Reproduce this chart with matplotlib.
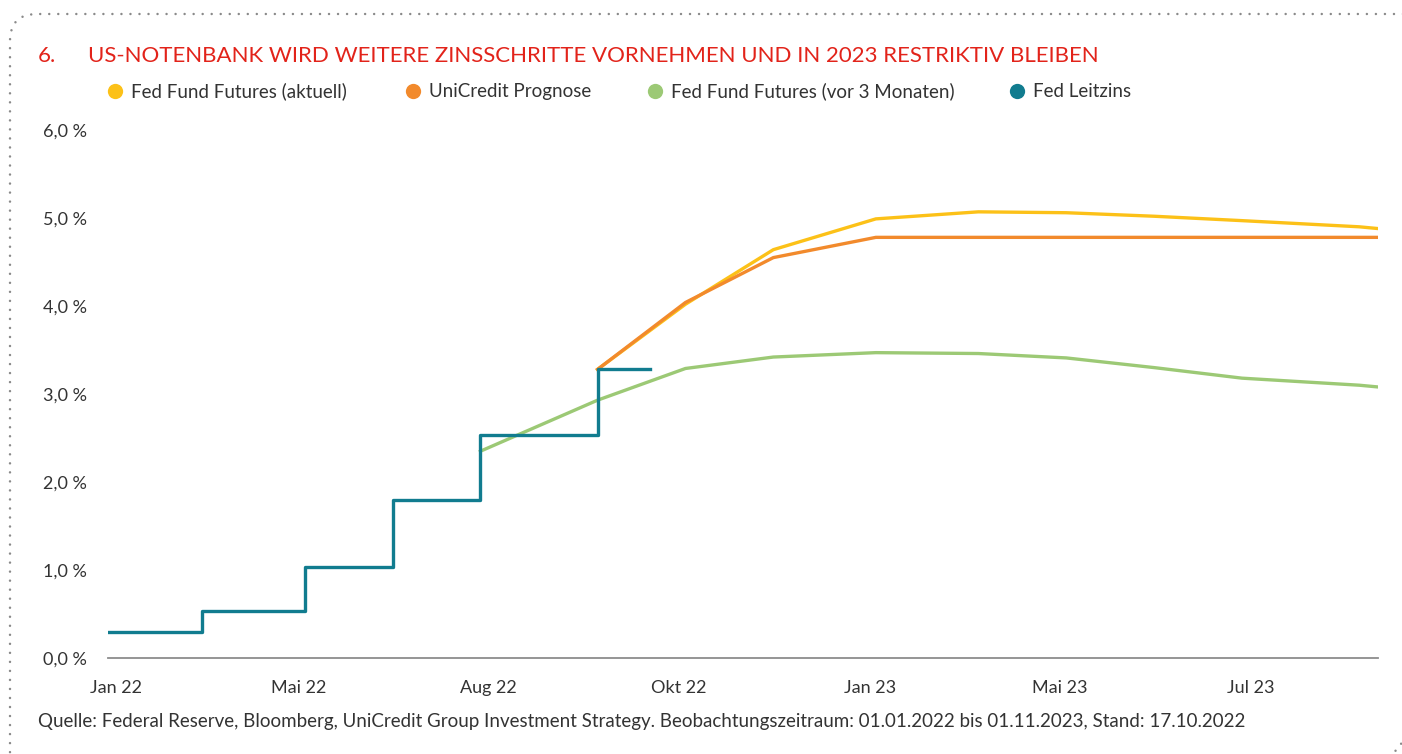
import numpy as np
import pandas as pd
import matplotlib
matplotlib.use("Agg")
import matplotlib.pyplot as plt
from matplotlib import font_manager
from matplotlib.patches import FancyBboxPatch, Arc
from matplotlib.lines import Line2D
from matplotlib.ticker import FuncFormatter
from matplotlib.transforms import ScaledTranslation

# --- data ---
leitzins_dates = ["2022-01-31", "2022-03-17", "2022-05-05", "2022-06-16",
                  "2022-07-28", "2022-09-22", "2022-10-17"]
leitzins_values = [0.29, 0.53, 1.03, 1.79, 2.53, 3.28, 3.28]

futures_dates = ["2022-09-22", "2022-11-03", "2022-12-15", "2023-02-02", "2023-03-23",
                 "2023-05-04", "2023-06-15", "2023-07-27", "2023-09-21", "2023-09-30"]
futures_now = [3.28, 4.02, 4.64, 4.99, 5.07, 5.06, 5.02, 4.97, 4.90, 4.88]
unicredit = [3.28, 4.04, 4.55, 4.78, 4.78, 4.78, 4.78, 4.78, 4.78, 4.78]

futures_3m_dates = ["2022-07-28", "2022-09-22", "2022-11-03", "2022-12-15", "2023-02-02",
                    "2023-03-23", "2023-05-04", "2023-06-15", "2023-07-27", "2023-09-21",
                    "2023-09-30"]
futures_3m = [2.35, 2.93, 3.29, 3.42, 3.47, 3.46, 3.41, 3.30, 3.18, 3.10, 3.08]

tick_dates = ["2022-01-31", "2022-05-02", "2022-08-01", "2022-10-31",
              "2023-01-30", "2023-05-01", "2023-07-31"]
tick_labels = ["Jan 22", "Mai 22", "Aug 22", "Okt 22", "Jan 23", "Mai 23", "Jul 23"]

series_names = ["Fed Fund Futures (aktuell)", "UniCredit Prognose",
                "Fed Fund Futures (vor 3 Monaten)", "Fed Leitzins"]
series_colors = ["#fcc118", "#f28a2c", "#9cc975", "#117c8f"]

title_num = "6."
title = "US-NOTENBANK WIRD WEITERE ZINSSCHRITTE VORNEHMEN UND IN 2023 RESTRIKTIV BLEIBEN"
source = ("Quelle: Federal Reserve, Bloomberg, UniCredit Group Investment Strategy. "
          "Beobachtungszeitraum: 01.01.2022 bis 01.11.2023, Stand: 17.10.2022")

# pick a narrow face if one is around
installed = {f.name for f in font_manager.fontManager.ttflist}
narrow = "Liberation Sans Narrow" if "Liberation Sans Narrow" in installed else "Lato"
plt.rcParams["font.family"] = [narrow, "DejaVu Sans"]

W, H = 1402, 754
fig = plt.figure(figsize=(W / 100, H / 100), dpi=100)
ax = fig.add_axes([108 / W, 1 - 658 / H, 1270 / W, (658 - 130) / H])

to_dt = pd.to_datetime
ax.plot(to_dt(futures_3m_dates), futures_3m, color=series_colors[2], lw=2.4, solid_joinstyle="round")
ax.plot(to_dt(futures_dates), futures_now, color=series_colors[0], lw=2.4, solid_joinstyle="round")
ax.plot(to_dt(futures_dates), unicredit, color=series_colors[1], lw=2.4, solid_joinstyle="round")
ax.plot(to_dt(leitzins_dates), leitzins_values, color=series_colors[3], lw=2.4,
        drawstyle="steps-post")

ax.set_xlim(to_dt("2022-01-31"), to_dt("2023-09-30"))
ax.set_ylim(0, 6)
ax.set_yticks(np.arange(0, 7, 1))
ax.yaxis.set_major_formatter(FuncFormatter(lambda v, p: f"{v:.1f}".replace(".", ",") + " %"))
ax.set_xticks(to_dt(tick_dates))
ax.set_xticklabels(tick_labels)

for s in ["top", "right", "left"]:
    ax.spines[s].set_visible(False)
ax.spines["bottom"].set_color("#8c8c8c")
ax.spines["bottom"].set_linewidth(1.3)
ax.tick_params(axis="both", length=0, labelsize=13, labelcolor="#333333")
ax.tick_params(axis="y", pad=15)
ax.tick_params(axis="x", pad=16)

# first month label sits a bit to the right in the original
first = ax.get_xticklabels()[0]
first.set_transform(first.get_transform() + ScaledTranslation(0.08, 0, fig.dpi_scale_trans))

# title
fig.text(38 / W, 1 - 62 / H, title_num, color="#e2231a", fontsize=16, va="baseline", ha="left")
fig.text(88 / W, 1 - 62 / H, title, color="#e2231a", fontsize=16, va="baseline", ha="left")

# legend, placed by hand
leg_x = [115, 413, 655, 1017]
for x, name, c in zip(leg_x, series_names, series_colors):
    fig.add_artist(Line2D([x / W], [1 - 91 / H], marker="o", markersize=11, color=c,
                          markeredgewidth=0, transform=fig.transFigure))
    fig.text((x + 16) / W, 1 - 97 / H, name, fontsize=13.5, color="#333333",
             va="baseline", ha="left")

fig.text(38 / W, 1 - 727 / H, source, fontsize=13.5, color="#333333", va="baseline", ha="left")

# dotted rounded frame: top and left edges only, the rest runs off the picture
dots = dict(fill=False, edgecolor="#8a8a8a", linewidth=1.8,
            linestyle=(0, (0.01, 3.6)), capstyle="round")
frame = FancyBboxPatch((0.10, -0.30), 14.30, 7.70, boxstyle="round,pad=0,rounding_size=0.27",
                       transform=fig.dpi_scale_trans, **dots)
fig.add_artist(frame)
# the little bit of corner peeking in at the bottom right
corner = Arc((13.79, 0.22), 0.5, 0.5, theta1=-90, theta2=0,
             transform=fig.dpi_scale_trans, **{k: v for k, v in dots.items() if k != "fill"})
fig.add_artist(corner)

fig.savefig("out.png", dpi=100)
